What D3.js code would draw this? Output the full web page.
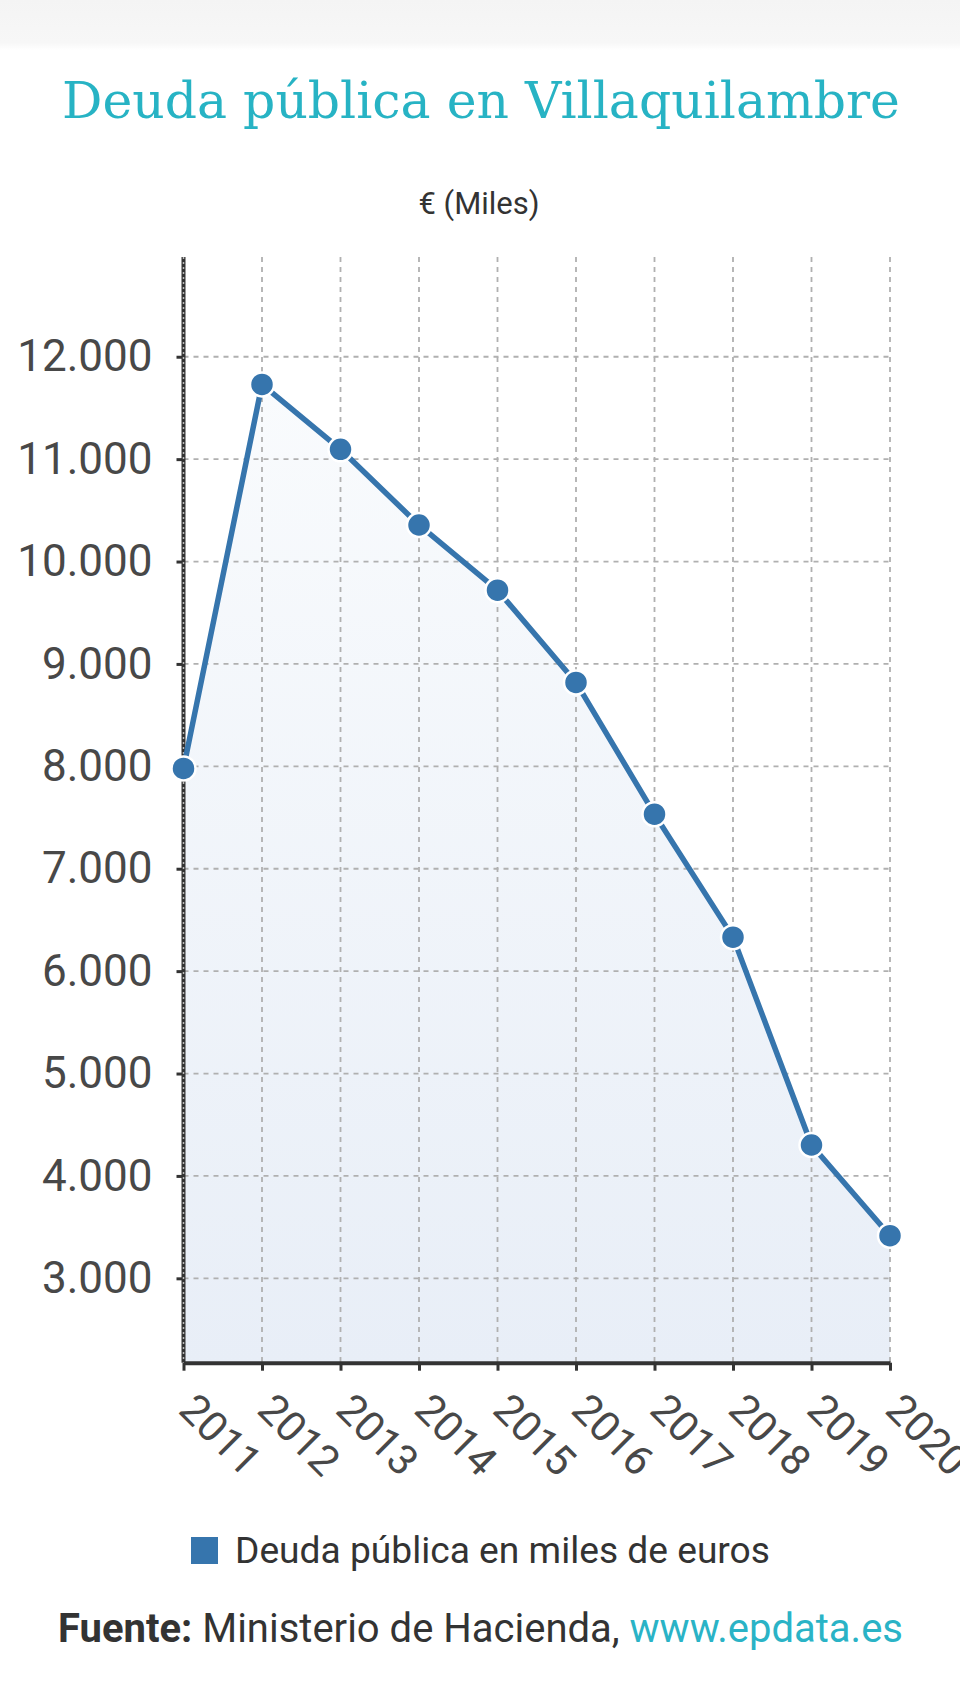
<!DOCTYPE html>
<html>
<head>
<meta charset="utf-8">
<script src="https://cdnjs.cloudflare.com/ajax/libs/d3/7.8.5/d3.min.js"></script>
<style>
  body { margin: 0; background: #fff; }
  svg { display: block; }
</style>
</head>
<body>
<div id="chart"></div>
<script>
// datos: deuda publica de Villaquilambre, miles de euros
var years = ["2011", "2012", "2013", "2014", "2015", "2016", "2017", "2018", "2019", "2020"];
var deuda = [7980, 11730, 11096, 10357, 9720, 8819, 7533, 6332, 4302, 3416];
var yTicks = [3000, 4000, 5000, 6000, 7000, 8000, 9000, 10000, 11000, 12000];

var titulo = "Deuda pública en Villaquilambre";
var unidad = "€ (Miles)";
var leyenda = "Deuda pública en miles de euros";

var W = 960, H = 1706;
var lineColor = "#3675ad";

var svg = d3.select("#chart").append("svg")
  .attr("width", W).attr("height", H);

// franja gris de arriba
var defs = svg.append("defs");
var topGrad = defs.append("linearGradient").attr("id", "topband")
  .attr("x1", 0).attr("y1", 0).attr("x2", 0).attr("y2", 1);
topGrad.append("stop").attr("offset", "0%").attr("stop-color", "#f4f4f4");
topGrad.append("stop").attr("offset", "85%").attr("stop-color", "#f7f7f7");
topGrad.append("stop").attr("offset", "100%").attr("stop-color", "#ffffff");
svg.append("rect").attr("x", 0).attr("y", 0).attr("width", W).attr("height", 50)
  .attr("fill", "url(#topband)");

var areaGrad = defs.append("linearGradient").attr("id", "areafill")
  .attr("x1", 0).attr("y1", 0).attr("x2", 0).attr("y2", 1);
areaGrad.append("stop").attr("offset", "0%").attr("stop-color", "#f9fbfd");
areaGrad.append("stop").attr("offset", "100%").attr("stop-color", "#e8eef7");

// fit text width
function fit(sel, target) {
  var fs = parseFloat(sel.attr("font-size"));
  var w = sel.node().getComputedTextLength();
  sel.attr("font-size", (fs * target / w).toFixed(2));
}

// titulo
var t = svg.append("text")
  .attr("x", 481).attr("y", 118)
  .attr("text-anchor", "middle")
  .attr("font-family", "'DejaVu Serif', serif")
  .attr("font-size", 46)
  .attr("fill", "#27b3c4")
  .text(titulo);
fit(t, 838);

svg.append("text")
  .attr("x", 479).attr("y", 214)
  .attr("text-anchor", "middle")
  .attr("font-family", "Roboto, sans-serif")
  .attr("font-size", 31)
  .attr("fill", "#333")
  .text(unidad);

// scales
var x = d3.scalePoint().domain(years).range([183.5, 890]);
var y = d3.scaleLinear().domain([2176, 12974]).range([1362.7, 257]);

var fmt = d3.formatLocale({decimal: ",", thousands: ".", grouping: [3], currency: ["", "€"]}).format(",d");

var g = svg.append("g");

// area
g.append("path")
  .datum(deuda)
  .attr("fill", "url(#areafill)")
  .attr("d", d3.area()
    .x(function(d, i) { return x(years[i]); })
    .y0(y(2176))
    .y1(function(d) { return y(d); }));

// grid
g.append("g")
  .selectAll("line.h")
  .data(yTicks)
  .join("line")
  .attr("x1", x(years[0])).attr("x2", x(years[years.length - 1]))
  .attr("y1", function(d) { return y(d); }).attr("y2", function(d) { return y(d); })
  .attr("stroke", "#b0b0b0").attr("stroke-width", 1.8)
  .attr("stroke-dasharray", "5,5");

g.append("g")
  .selectAll("line.v")
  .data(years.slice(1))
  .join("line")
  .attr("x1", function(d) { return x(d); }).attr("x2", function(d) { return x(d); })
  .attr("y1", y.range()[1]).attr("y2", y.range()[0])
  .attr("stroke", "#b0b0b0").attr("stroke-width", 1.8)
  .attr("stroke-dasharray", "5,5");

// y axis
var yAxis = g.append("g")
  .attr("transform", "translate(" + x(years[0]) + ",0)")
  .call(d3.axisLeft(y).tickValues(yTicks).tickFormat(fmt).tickSize(7).tickPadding(24));
yAxis.select(".domain").remove();
yAxis.selectAll(".tick line").attr("stroke", "#333").attr("stroke-width", 3);
yAxis.selectAll(".tick text")
  .attr("font-family", "Roboto, sans-serif")
  .attr("font-size", 44)
  .attr("fill", "#484848");
g.append("line")
  .attr("x1", x(years[0])).attr("x2", x(years[0]))
  .attr("y1", y.range()[1]).attr("y2", y.range()[0])
  .attr("stroke", "#333").attr("stroke-width", 4);
g.append("line")
  .attr("x1", x(years[0])).attr("x2", x(years[0]))
  .attr("y1", y.range()[1]).attr("y2", y.range()[0])
  .attr("stroke", "#bbb").attr("stroke-width", 1.5)
  .attr("stroke-dasharray", "2,3");

// x axis
var xAxis = g.append("g")
  .attr("transform", "translate(0," + y.range()[0] + ")")
  .call(d3.axisBottom(x).tickSize(8).tickSizeOuter(0));
xAxis.select(".domain").attr("stroke", "#333").attr("stroke-width", 4);
xAxis.selectAll(".tick line").attr("stroke", "#333").attr("stroke-width", 3);
xAxis.selectAll(".tick text")
  .attr("font-family", "Roboto, sans-serif")
  .attr("font-size", 42)
  .attr("fill", "#484848")
  .attr("text-anchor", "start")
  .attr("y", 0).attr("dy", 0)
  .attr("transform", "translate(-7,49) rotate(45)");

// linea
g.append("path")
  .datum(deuda)
  .attr("fill", "none")
  .attr("stroke", lineColor)
  .attr("stroke-width", 5.5)
  .attr("stroke-linejoin", "round")
  .attr("d", d3.line()
    .x(function(d, i) { return x(years[i]); })
    .y(function(d) { return y(d); }));

g.append("g")
  .selectAll("circle")
  .data(deuda)
  .join("circle")
  .attr("cx", function(d, i) { return x(years[i]); })
  .attr("cy", function(d) { return y(d); })
  .attr("r", 12)
  .attr("fill", lineColor)
  .attr("stroke", "#fff")
  .attr("stroke-width", 2.5);

// leyenda
svg.append("rect")
  .attr("x", 191).attr("y", 1537).attr("width", 27).attr("height", 27)
  .attr("fill", lineColor);
var lg = svg.append("text")
  .attr("x", 235).attr("y", 1563)
  .attr("font-family", "Roboto, sans-serif")
  .attr("font-size", 34)
  .attr("fill", "#333")
  .text(leyenda);
fit(lg, 535);

// fuente
var f = svg.append("text")
  .attr("x", 480.5).attr("y", 1642)
  .attr("text-anchor", "middle")
  .attr("font-family", "Roboto, sans-serif")
  .attr("font-size", 33)
  .attr("fill", "#333");
f.append("tspan").attr("font-weight", "bold").text("Fuente:");
f.append("tspan").text(" Ministerio de Hacienda, ");
f.append("tspan").attr("fill", "#2ab3c6").text("www.epdata.es");
fit(f, 845);
</script>
</body>
</html>
